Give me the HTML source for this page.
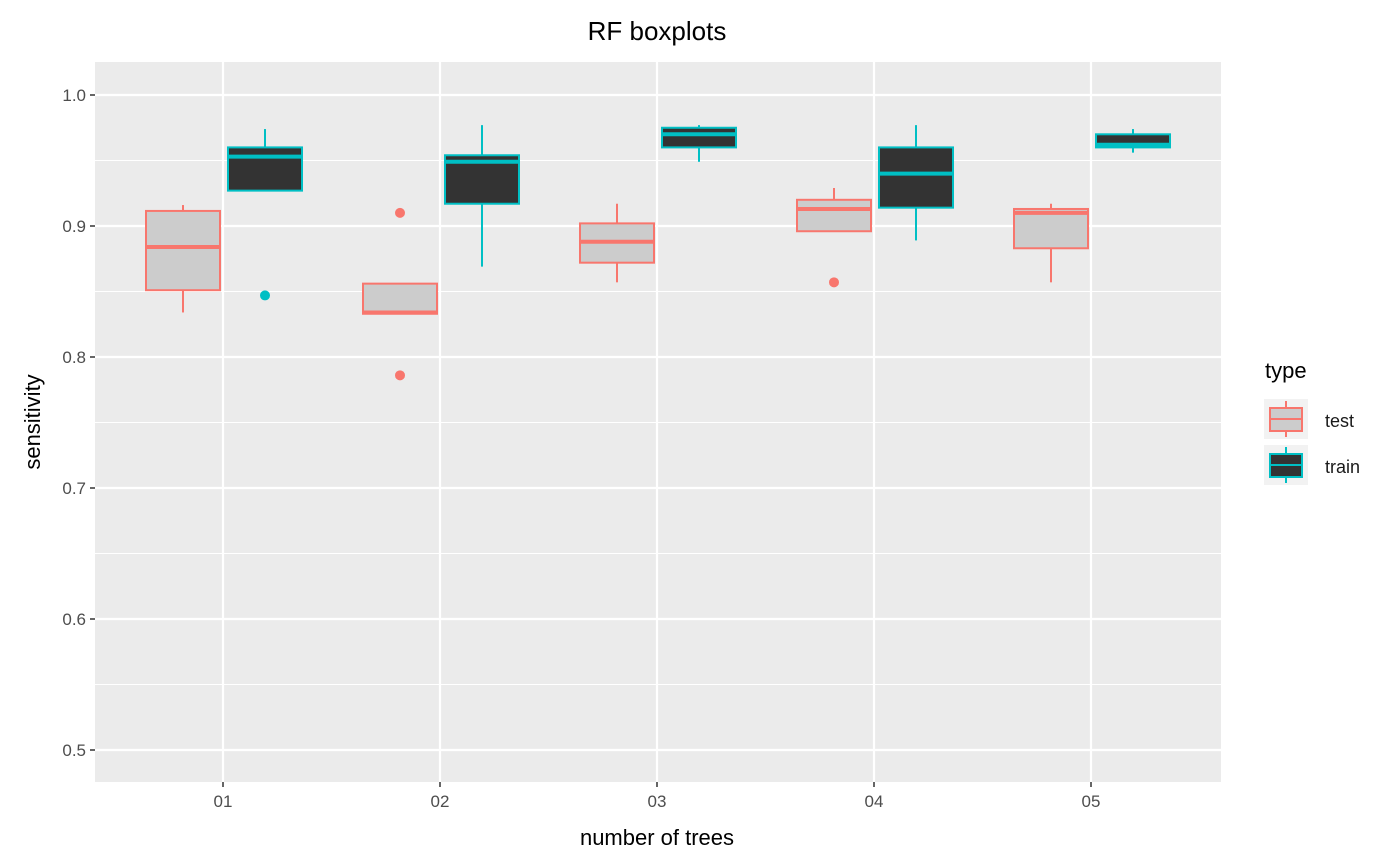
<!DOCTYPE html>
<html><head><meta charset="utf-8"><style>
body{margin:0;background:#fff;}
svg{display:block;font-family:"Liberation Sans",Arial,sans-serif;}
</style></head><body>
<svg id="chart" width="1400" height="866">
<rect x="0" y="0" width="1400" height="866" fill="#fff"/>
<rect x="95" y="62" width="1126" height="720" fill="#EBEBEB"/>
<g id="grid"></g>
<g id="marks"></g>
<g id="axes"></g>
<text x="657" y="40" font-size="26" text-anchor="middle" fill="#000">RF boxplots</text>
<text x="657" y="845" font-size="22" text-anchor="middle" fill="#000">number of trees</text>
<text transform="translate(40,422) rotate(-90)" font-size="22" text-anchor="middle" fill="#000">sensitivity</text>
<g>
<text x="1265" y="378" font-size="22" fill="#000">type</text>
<g>
<rect x="1264" y="399" width="44" height="40" fill="#F2F2F2"/>
<line x1="1286" y1="401" x2="1286" y2="437" stroke="#F8766D" stroke-width="2"/>
<rect x="1270" y="408" width="32" height="23" fill="#CCCCCC" stroke="#F8766D" stroke-width="2"/>
<line x1="1270" y1="419" x2="1302" y2="419" stroke="#F8766D" stroke-width="2"/>
<text x="1325" y="427" font-size="18" fill="#1a1a1a">test</text>
</g>
<g>
<rect x="1264" y="445" width="44" height="40" fill="#F2F2F2"/>
<line x1="1286" y1="447" x2="1286" y2="483" stroke="#00BFC4" stroke-width="2"/>
<rect x="1270" y="454" width="32" height="23" fill="#333333" stroke="#00BFC4" stroke-width="2"/>
<line x1="1270" y1="465" x2="1302" y2="465" stroke="#00BFC4" stroke-width="2"/>
<text x="1325" y="473" font-size="18" fill="#1a1a1a">train</text>
</g>
</g>
</svg>
<script>
const categories=["01","02","03","04","05"];
const yTicks=[0.5,0.6,0.7,0.8,0.9,1.0];
const yTickLabels=["0.5","0.6","0.7","0.8","0.9","1.0"];
const testLow=[0.834,0.833,0.857,0.896,0.857];
const testQ1=[0.851,0.833,0.872,0.896,0.883];
const testMed=[0.884,0.834,0.888,0.913,0.910];
const testQ3=[0.9115,0.856,0.902,0.920,0.913];
const testHigh=[0.916,0.856,0.917,0.929,0.917];
const testOutliers=[[],[0.910,0.786],[],[0.857],[]];
const trainLow=[0.927,0.869,0.949,0.889,0.956];
const trainQ1=[0.927,0.917,0.960,0.914,0.960];
const trainMed=[0.953,0.949,0.970,0.940,0.962];
const trainQ3=[0.960,0.954,0.975,0.960,0.970];
const trainHigh=[0.974,0.977,0.977,0.977,0.974];
const trainOutliers=[[0.847],[],[],[],[]];

const NS="http://www.w3.org/2000/svg";
function y(v){return 95+(1-v)*1310;}
function x(i){return 223+i*217;}
function mk(tag,attrs,parent){const e=document.createElementNS(NS,tag);for(const k in attrs)e.setAttribute(k,attrs[k]);parent.appendChild(e);return e;}
const grid=document.getElementById('grid'),marks=document.getElementById('marks'),axes=document.getElementById('axes');
for(let i=0;i<yTicks.length-1;i++){const v=(yTicks[i]+yTicks[i+1])/2;
 const l=mk('line',{x1:95,x2:1221,y1:y(v),y2:y(v),stroke:'#fff','stroke-width':1},grid);
 
 }
yTicks.forEach((v,i)=>{
 const l=mk('line',{x1:95,x2:1221,y1:y(v),y2:y(v),stroke:'#fff','stroke-width':2.2},grid);
 
 
 mk('line',{x1:90,x2:95,y1:y(v),y2:y(v),stroke:'#333','stroke-width':1.5},axes);
 const t=mk('text',{x:86,y:y(v)+6,'font-size':17,'text-anchor':'end',fill:'#4d4d4d'},axes);
 t.textContent=yTickLabels[i];
 
 
});
categories.forEach((c,i)=>{
 const l=mk('line',{x1:x(i),x2:x(i),y1:62,y2:782,stroke:'#fff','stroke-width':2.2},grid);
 
 
 mk('line',{x1:x(i),x2:x(i),y1:782,y2:787,stroke:'#333','stroke-width':1.5},axes);
 const t=mk('text',{x:x(i),y:807,'font-size':17,'text-anchor':'middle',fill:'#4d4d4d'},axes);
 t.textContent=c;
 
 
});
function box(i,off,low,q1,med,q3,high,outs,fill,stroke,name){
 const g=mk('g',{},marks);
 
 
 const cx=x(i)+off,w=74;
 mk('line',{x1:cx,x2:cx,y1:y(high),y2:y(low),stroke:stroke,'stroke-width':2},g);
 mk('rect',{x:cx-w/2,y:y(q3),width:w,height:Math.max(y(q1)-y(q3),0.5),fill:fill,stroke:stroke,'stroke-width':2},g);
 mk('line',{x1:cx-w/2,x2:cx+w/2,y1:y(med),y2:y(med),stroke:stroke,'stroke-width':4},g);
 outs.forEach(o=>{const p=mk('circle',{cx:cx,cy:y(o),r:5,fill:stroke},g);
  
  });
}
categories.forEach((c,i)=>{
 box(i,-40,testLow[i],testQ1[i],testMed[i],testQ3[i],testHigh[i],testOutliers[i],'#CCCCCC','#F8766D','box-test-'+c);
 box(i,42,trainLow[i],trainQ1[i],trainMed[i],trainQ3[i],trainHigh[i],trainOutliers[i],'#333333','#00BFC4','box-train-'+c);
});
</script>
</body></html>
